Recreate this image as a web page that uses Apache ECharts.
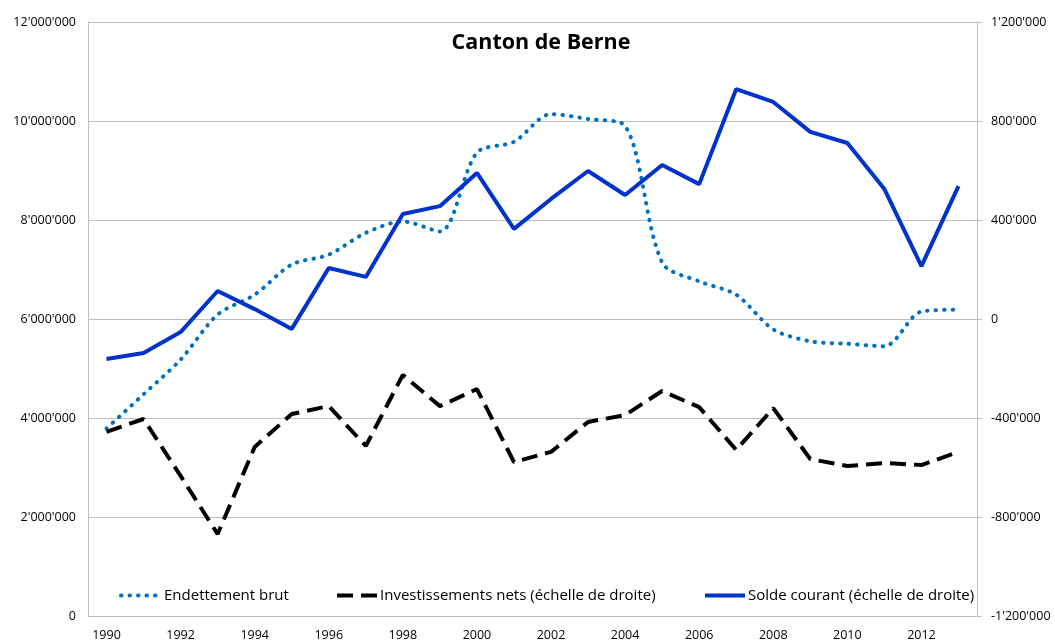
<!DOCTYPE html>
<html>
<head>
<meta charset="utf-8">
<title>Canton de Berne</title>
<script src="https://cdn.jsdelivr.net/npm/echarts@6/dist/echarts.min.js"></script>
<style>
  html, body { margin: 0; padding: 0; background: #fff; }
  #chart { width: 1055px; height: 642px; }
</style>
</head>
<body>
<div id="chart"></div>
<script>
// années
var years = ['1990','1991','1992','1993','1994','1995','1996','1997','1998','1999','2000','2001',
             '2002','2003','2004','2005','2006','2007','2008','2009','2010','2011','2012','2013'];

// Endettement brut (échelle de gauche)
var endettement = [3790000, 4480000, 5180000, 6090000, 6490000, 7100000, 7300000, 7740000,
                   7970000, 7770000, 9360000, 9580000, 10140000, 10040000, 9900000, 7140000,
                   6760000, 6490000, 5790000, 5550000, 5500000, 5450000, 6150000, 6190000];

// Investissements nets (échelle de droite)
var investissements = [-456000, -404000, -634000, -869000, -517000, -384000, -352000, -513000,
                       -226000, -352000, -283000, -578000, -537000, -416000, -388000, -291000,
                       -356000, -529000, -360000, -566000, -594000, -582000, -590000, -537000];

// Solde courant (échelle de droite)
var solde = [-162000, -137000, -53000, 113000, 40000, -40000, 206000, 170000,
             424000, 456000, 590000, 364000, 485000, 598000, 501000, 622000,
             545000, 929000, 877000, 756000, 711000, 525000, 214000, 537000];

function fmt(v){ // séparateur de milliers '
    var s = String(Math.abs(v)).replace(/\B(?=(\d{3})+(?!\d))/g, "'");
    return (v < 0 ? '-' : '') + s;
}

var font = 'Open Sans';
var gray = '#BFBFBF';

// légende sans le petit rond, trait épais
function leg(name, left, ls){
    return {
        data: [name], left: left, top: 583, itemWidth: 40, itemHeight: 14, itemGap: 4,
        itemStyle: { color: 'rgba(0,0,0,0)', borderWidth: 0 },
        lineStyle: ls,
        textStyle: { fontFamily: font, fontSize: 15, color: '#000', padding: [0, 0, 0, -2] }
    };
}

var option = {
    animation: false,
    backgroundColor: '#fff',
    title: {
        text: 'Canton de Berne',
        left: 536,
        textAlign: 'center',
        top: 27,
        textStyle: { fontFamily: font, fontSize: 21.5, fontWeight: 'bold', color: '#000' }
    },
    legend: [
        leg('Endettement brut', 114, { width: 4, type: [0.5, 8], cap: 'round', color: '#0070C0' }),
        leg('Investissements nets (échelle de droite)', 330, { width: 4, type: [16, 8], color: '#000' }),
        leg('Solde courant (échelle de droite)', 698, { width: 4, color: '#0033CC' })
    ],
    grid: { left: 88, right: 78, top: 22, bottom: 25 },
    xAxis: {
        type: 'category',
        data: years,
        boundaryGap: true,
        axisLine: { lineStyle: { color: gray } },
        axisTick: { show: false },
        axisLabel: { interval: 1, color: '#000', fontFamily: font, fontSize: 12.5, margin: 13 }
    },
    yAxis: [
        {
            type: 'value', min: 0, max: 12000000, interval: 2000000,
            axisLine: { show: true, lineStyle: { color: gray } },
            axisTick: { show: false },
            splitLine: { lineStyle: { color: gray } },
            axisLabel: { formatter: fmt, color: '#000', fontFamily: font, fontSize: 12.5, margin: 12 }
        },
        {
            type: 'value', min: -1200000, max: 1200000, interval: 400000,
            axisLine: { show: true, lineStyle: { color: gray } },
            axisTick: { show: true, length: 5, lineStyle: { color: gray } },
            splitLine: { show: false },
            axisLabel: { formatter: fmt, color: '#000', fontFamily: font, fontSize: 12.5, margin: 14 }
        }
    ],
    series: [
        {
            name: 'Endettement brut', type: 'line', yAxisIndex: 0,
            data: endettement, showSymbol: false, symbol: 'none', smooth: 0.3,
            itemStyle: { color: '#0070C0' },
            lineStyle: { color: '#0070C0', width: 4, type: [0.5, 8], cap: 'round' }
        },
        {
            name: 'Investissements nets (échelle de droite)', type: 'line', yAxisIndex: 1,
            data: investissements, showSymbol: false, symbol: 'none',
            itemStyle: { color: '#000' },
            lineStyle: { color: '#000', width: 4, type: [16, 8] }
        },
        {
            name: 'Solde courant (échelle de droite)', type: 'line', yAxisIndex: 1,
            data: solde, showSymbol: false, symbol: 'none',
            itemStyle: { color: '#0033CC' },
            lineStyle: { color: '#0033CC', width: 4 }
        }
    ]
};

echarts.init(document.getElementById('chart')).setOption(option);
</script>
</body>
</html>
